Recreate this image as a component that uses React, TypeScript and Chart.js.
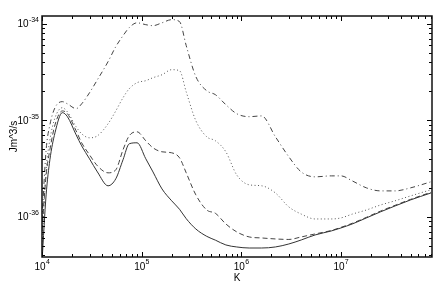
import React, { useEffect, useRef } from 'react';
import { Chart, registerables } from 'chart.js';

Chart.register(...registerables);

// Temperature grid (K)
const temperatures = [
  1e4, 1.1e4, 1.2e4, 1.35e4, 1.6e4, 1.8e4, 2.2e4, 2.5e4, 3e4, 3.6e4,
  4.6e4, 5.5e4, 6.5e4, 7.5e4, 9e4, 1.1e5, 1.3e5, 1.6e5, 2e5, 2.4e5,
  2.8e5, 3.5e5, 4.5e5, 5.5e5, 7e5, 9e5, 1.2e6, 1.6e6, 2.2e6, 3e6,
  4e6, 5.5e6, 8e6, 1e7, 1.3e7, 1.8e7, 2.5e7, 3.5e7, 5e7, 8e7,
];

// Solid curve (Jm^3/s)
const solidValues = [
  3.42e-37, 1.69e-36, 3.9e-36, 7.42e-36, 1.2e-35, 1.09e-35, 7.08e-36, 5.44e-36, 3.99e-36, 2.92e-36,
  2.1e-36, 2.48e-36, 3.9e-36, 5.71e-36, 5.85e-36, 4.0e-36, 2.92e-36, 1.95e-36, 1.47e-36, 1.2e-36,
  9.6e-37, 7.5e-37, 6.3e-37, 5.75e-37, 5.13e-37, 4.89e-37, 4.77e-37, 4.77e-37, 4.89e-37, 5.25e-37,
  5.78e-37, 6.51e-37, 7.16e-37, 7.69e-37, 8.46e-37, 9.77e-37, 1.13e-36, 1.3e-36, 1.5e-36, 1.77e-36,
];

// Dashed curve
const dashedValues = [
  7.33e-37, 2.72e-36, 4.95e-36, 8.98e-36, 1.25e-35, 1.17e-35, 7.78e-36, 5.85e-36, 4.39e-36, 3.38e-36,
  2.86e-36, 3.07e-36, 4.95e-36, 6.91e-36, 7.6e-36, 6.14e-36, 5.19e-36, 4.72e-36, 4.61e-36, 4.09e-36,
  2.86e-36, 1.69e-36, 1.18e-36, 1.09e-36, 8.46e-37, 7.0e-37, 6.21e-37, 6.06e-37, 5.92e-37, 5.85e-37,
  6.21e-37, 6.67e-37, 7.24e-37, 7.8e-37, 8.6e-37, 9.9e-37, 1.15e-36, 1.32e-36, 1.52e-36, 1.8e-36,
];

// Dotted curve
const dottedValues = [
  5.13e-37, 3.07e-36, 6.28e-36, 1.06e-35, 1.35e-35, 1.22e-35, 8.57e-36, 7.25e-36, 6.59e-36, 6.91e-36,
  9.2e-36, 1.25e-35, 1.71e-35, 2.12e-35, 2.45e-35, 2.57e-35, 2.76e-35, 2.96e-35, 3.34e-35, 3.26e-35,
  1.97e-35, 9.9e-36, 6.75e-36, 6.14e-36, 4.72e-36, 2.72e-36, 2.15e-36, 2.1e-36, 1.77e-36, 1.27e-36,
  1.07e-36, 9.53e-37, 9.53e-37, 9.77e-37, 1.07e-36, 1.18e-36, 1.33e-36, 1.47e-36, 1.65e-36, 1.91e-36,
];

// Dash-dot curve
const dashDotValues = [
  9.31e-37, 4.95e-36, 8.98e-36, 1.35e-35, 1.56e-35, 1.48e-35, 1.32e-35, 1.48e-35, 1.93e-35, 2.63e-35,
  4.04e-35, 5.78e-35, 7.5e-35, 9.09e-35, 1.02e-34, 9.76e-35, 9.53e-35, 1.02e-34, 1.1e-34, 1.05e-34,
  5.93e-35, 2.83e-35, 2.02e-35, 1.84e-35, 1.45e-35, 1.17e-35, 1.09e-35, 1.11e-35, 6.75e-36, 4.19e-36,
  2.92e-36, 2.6e-36, 2.66e-36, 2.66e-36, 2.36e-36, 2.0e-36, 1.86e-36, 1.86e-36, 2.0e-36, 2.31e-36,
];

const xMin = 1e4;
const xMax = 8.2e7;
const yMin = 3.85e-37;
const yMax = 1.2e-34;
const xTitle = 'K';
const yTitle = 'Jm^3/s';

const FONT_FAMILY = "'Liberation Sans', Arial, sans-serif";

function exponentOf(v: number): number | null {
  const l = Math.log10(v);
  const e = Math.round(l);
  return Math.abs(l - e) < 1e-6 ? e : null;
}

function logTicks(scale: any) {
  const min = scale.min;
  const max = scale.max;
  const ticks: any[] = [];
  for (let e = Math.floor(Math.log10(min)); e <= Math.ceil(Math.log10(max)); e++) {
    for (let m = 1; m <= 9; m++) {
      const v = m * Math.pow(10, e);
      if (v >= min * (1 - 1e-9) && v <= max * (1 + 1e-9)) ticks.push({ value: v, major: m === 1 });
    }
  }
  scale.ticks = ticks;
}

const framePlugin = {
  id: 'frameTicks',
  afterDatasetsDraw(chart: any) {
    const { ctx, chartArea } = chart;
    const { left, right, top, bottom } = chartArea;
    const xs = chart.scales.x;
    const ys = chart.scales.y;
    ctx.save();
    ctx.strokeStyle = '#000';
    ctx.lineWidth = 1;
    ctx.beginPath();
    xs.ticks.forEach((t: any) => {
      const px = Math.round(xs.getPixelForValue(t.value)) + 0.5;
      const len = t.major ? 5 : 3;
      ctx.moveTo(px, bottom);
      ctx.lineTo(px, bottom - len);
      ctx.moveTo(px, top);
      ctx.lineTo(px, top + len);
    });
    ys.ticks.forEach((t: any) => {
      const py = Math.round(ys.getPixelForValue(t.value)) + 0.5;
      const len = t.major ? 5 : 3;
      ctx.moveTo(left, py);
      ctx.lineTo(left + len, py);
      ctx.moveTo(right, py);
      ctx.lineTo(right - len, py);
    });
    ctx.stroke();
    ctx.lineWidth = 1.5;
    ctx.strokeStyle = '#111';
    ctx.strokeRect(Math.round(left), Math.round(top), Math.round(right - left), Math.round(bottom - top));

    // power-of-ten tick labels with superscript exponents
    ctx.fillStyle = '#000';
    ctx.textBaseline = 'middle';
    ctx.textAlign = 'left';
    const baseFont = `10px ${FONT_FAMILY}`;
    const expFont = `7px ${FONT_FAMILY}`;
    const measure = (s: string, f: string) => { ctx.font = f; return ctx.measureText(s).width; };
    xs.ticks.forEach((t: any) => {
      const e = exponentOf(t.value);
      if (e === null) return;
      const px = xs.getPixelForValue(t.value);
      const es = String(e);
      const wb = measure('10', baseFont);
      const we = measure(es, expFont);
      const x0 = px - (wb + we) / 2;
      ctx.font = baseFont;
      ctx.fillText('10', x0, bottom + 10.5);
      ctx.font = expFont;
      ctx.fillText(es, x0 + wb + 0.3, bottom + 5.5);
    });
    ys.ticks.forEach((t: any) => {
      const e = exponentOf(t.value);
      if (e === null) return;
      const py = ys.getPixelForValue(t.value);
      const es = String(e);
      const wb = measure('10', baseFont);
      const we = measure(es, expFont);
      const x1 = left - 3;
      ctx.font = baseFont;
      ctx.fillText('10', x1 - we - wb - 0.3, py + 0.5);
      ctx.font = expFont;
      ctx.fillText(es, x1 - we, py - 3.5);
    });
    ctx.restore();
  },
};

export default function App() {
  const canvasRef = useRef<HTMLCanvasElement | null>(null);

  useEffect(() => {
    const canvas = canvasRef.current;
    if (!canvas) return;
    const font = { family: FONT_FAMILY, size: 10 };
    const mk = (vals: number[], dash: number[], color: string) => ({
      data: temperatures.map((t, i) => ({ x: t, y: vals[i] })),
      borderColor: color,
      borderWidth: 1,
      borderDash: dash,
      pointRadius: 0,
      cubicInterpolationMode: 'monotone',
      fill: false,
    });
    const chart = new Chart(canvas, {
      type: 'line',
      data: {
        datasets: [
          mk(solidValues, [], '#333'),
          mk(dashedValues, [5, 3], '#444'),
          mk(dottedValues, [1, 2.5], '#555'),
          mk(dashDotValues, [5, 3, 1, 3], '#444'),
        ],
      },
      options: {
        animation: false,
        responsive: false,
        layout: { padding: { top: 16, right: 4, left: 0, bottom: 0 } },
        plugins: { legend: { display: false }, tooltip: { enabled: false } },
        scales: {
          x: {
            type: 'logarithmic',
            min: xMin,
            max: xMax,
            afterBuildTicks: logTicks,
            afterFit: (s: any) => { s.height = 28; },
            grid: { display: false, drawTicks: false },
            border: { display: false },
            ticks: { display: false, autoSkip: false },
            title: { display: true, text: xTitle, color: '#000', font, padding: { top: 0, bottom: 1 } },
          },
          y: {
            type: 'logarithmic',
            min: yMin,
            max: yMax,
            afterBuildTicks: logTicks,
            afterFit: (s: any) => { s.width = 42; },
            grid: { display: false, drawTicks: false },
            border: { display: false },
            ticks: { display: false, autoSkip: false },
            title: { display: true, text: yTitle, color: '#000', font, padding: { top: 8, bottom: 0 } },
          },
        },
      },
      plugins: [framePlugin],
    } as any);
    return () => chart.destroy();
  }, []);

  return (
    <div style={{ position: 'fixed', left: 0, top: 0, width: 436, height: 285, background: '#fff' }}>
      <canvas ref={canvasRef} width={436} height={285} style={{ display: 'block' }} />
    </div>
  );
}
